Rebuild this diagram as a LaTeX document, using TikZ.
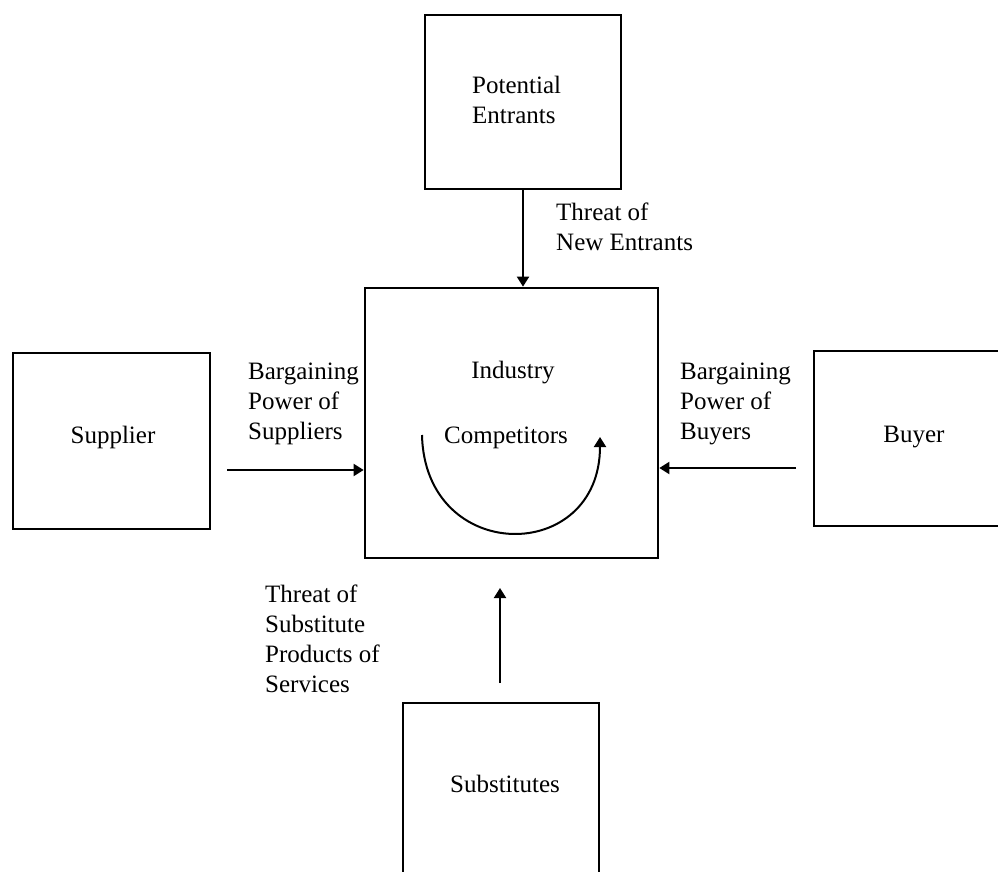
\documentclass[tikz,border=0pt]{standalone}
\usepackage{fontspec}
\setmainfont{Liberation Serif}
\usetikzlibrary{arrows.meta}
\begin{document}
\begin{tikzpicture}[x=1pt,y=-1pt,
  box/.style={draw,line width=2.1pt,inner sep=0pt},
  mainbox/.style={draw,line width=2.7pt,inner sep=0pt},
  txt/.style={font=\fontsize{25}{30}\selectfont,inner sep=0pt},
  lbl/.style={txt,align=left,anchor=north west},
  word/.style={txt,anchor=base},
  arr/.style={line width=2pt,-{Triangle[length=10pt,width=12pt]}}]
\useasboundingbox (0,0) rectangle (998,872);
\clip (0,0) rectangle (998,872);

% the five forces boxes
\node[box,minimum width=196,minimum height=174] (pe) at (523,102) {};
\node[mainbox,minimum width=293,minimum height=270] (ind) at (511.5,423) {};
\node[box,minimum width=197,minimum height=176] (sup) at (111.5,441) {};
\node[box,minimum width=200,minimum height=175] (buy) at (914,438.5) {};
\node[box,minimum width=196,minimum height=190] (sub) at (501,798) {};

% box titles
\node[lbl] (peT) at (472,76) {Potential\\Entrants};
\node[word] (indT) at (513,378) {Industry};
\node[word] (compT) at (506,443) {Competitors};
\node[word] (supT) at (113,443) {Supplier};
\node[word] (buyT) at (914,442) {Buyer};
\node[word] (subT) at (505,792) {Substitutes};

% force labels
\node[lbl] (newL) at (556,203) {Threat of\\New Entrants};
\node[lbl] (supL) at (248,363) {Bargaining\\Power of\\Suppliers};
\node[lbl] (buyL) at (680,363) {Bargaining\\Power of\\Buyers};
\node[lbl] (subL) at (265,585) {Threat of\\Substitute\\Products of\\Services};

% connectors
\coordinate (supTail) at (227,470);
\coordinate (buyTail) at (796,468);
\coordinate (subTail) at (500,683);
\coordinate (subHead) at (500,588);
\draw[arr] (pe.south) -- (pe.south |- ind.north);
\draw[arr] (supTail) -- (supTail -| ind.west);
\draw[arr] (buyTail) -- (buyTail -| ind.east);
\draw[arr] (subTail) -- (subHead);

% rivalry among competitors
\coordinate (rivS) at (422,435);
\coordinate (rivE) at (600,437);
\draw[arr] (rivS) .. controls (425,565) and (600,565) .. (rivE);
\end{tikzpicture}
\end{document}
